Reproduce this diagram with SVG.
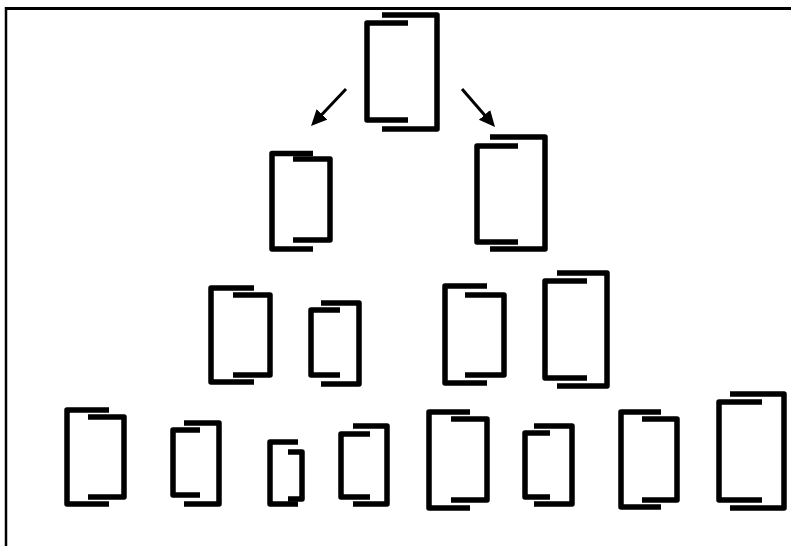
<svg xmlns="http://www.w3.org/2000/svg" width="791" height="546" viewBox="0 0 791 546">
  <style>
    .b { fill: none; stroke: #000; stroke-width: 5.5; stroke-linejoin: round; stroke-linecap: butt; }
    .frame { stroke: #000; fill: none; }
    .arrow { stroke: #000; stroke-width: 3; fill: none; }
  </style>
  <defs>
    <marker id="head" markerUnits="userSpaceOnUse" markerWidth="18" markerHeight="18" refX="5" refY="7.5" orient="auto">
      <path d="M0,0 L16,7.5 L0,15 z" fill="#000"/>
    </marker>
  </defs>
  <rect width="791" height="546" fill="#fff"/>
  <g id="frame">
    <line class="frame" x1="5" y1="8.5" x2="791" y2="8.5" stroke-width="3"/>
    <line class="frame" x1="6" y1="7" x2="6" y2="546" stroke-width="2.5"/>
  </g>
  <g id="connectors">
    <line class="arrow" x1="346" y1="89" x2="318.6" y2="118" marker-end="url(#head)"/>
    <line class="arrow" x1="462" y1="89" x2="487.8" y2="118.7" marker-end="url(#head)"/>
  </g>
  <g id="node-top">
    <path class="b" d="M408,23 H367 V120 H408"/>
    <path class="b" d="M382,15 H437 V129 H382"/>
  </g>
  <g id="node-a">
    <path class="b" d="M313,153.5 H272 V249 H313"/>
    <path class="b" d="M293,159 H330 V240 H293"/>
  </g>
  <g id="node-b">
    <path class="b" d="M518,146 H477 V242 H518"/>
    <path class="b" d="M490,137 H545 V249 H490"/>
  </g>
  <g id="node-c">
    <path class="b" d="M254,288 H211 V382 H254"/>
    <path class="b" d="M233,295 H270 V375 H233"/>
  </g>
  <g id="node-d">
    <path class="b" d="M340,310 H311 V375 H340"/>
    <path class="b" d="M321,303 H359 V384 H321"/>
  </g>
  <g id="node-e">
    <path class="b" d="M487,286 H445 V383 H487"/>
    <path class="b" d="M465,295 H504 V375 H465"/>
  </g>
  <g id="node-f">
    <path class="b" d="M587,281 H545 V378 H587"/>
    <path class="b" d="M557,273 H607 V386 H557"/>
  </g>
  <g id="node-g">
    <path class="b" d="M109,410 H67 V504 H109"/>
    <path class="b" d="M88,417 H124 V497 H88"/>
  </g>
  <g id="node-h">
    <path class="b" d="M200,430 H173 V495 H200"/>
    <path class="b" d="M184,423 H219 V504 H184"/>
  </g>
  <g id="node-i">
    <path class="b" d="M298,442 H270 V504 H298"/>
    <path class="b" d="M288,452 H302 V499 H288"/>
  </g>
  <g id="node-j">
    <path class="b" d="M370,434 H341 V497 H370"/>
    <path class="b" d="M353,426 H387 V504 H353"/>
  </g>
  <g id="node-k">
    <path class="b" d="M470,412 H429 V508 H470"/>
    <path class="b" d="M451,419 H487 V500 H451"/>
  </g>
  <g id="node-l">
    <path class="b" d="M550,433 H525 V497 H550"/>
    <path class="b" d="M534,426 H572 V504 H534"/>
  </g>
  <g id="node-m">
    <path class="b" d="M661,412 H621 V507 H661"/>
    <path class="b" d="M642,419 H677 V500 H642"/>
  </g>
  <g id="node-n">
    <path class="b" d="M762,402 H719 V500 H762"/>
    <path class="b" d="M730,394 H784 V508 H730"/>
  </g>
</svg>
